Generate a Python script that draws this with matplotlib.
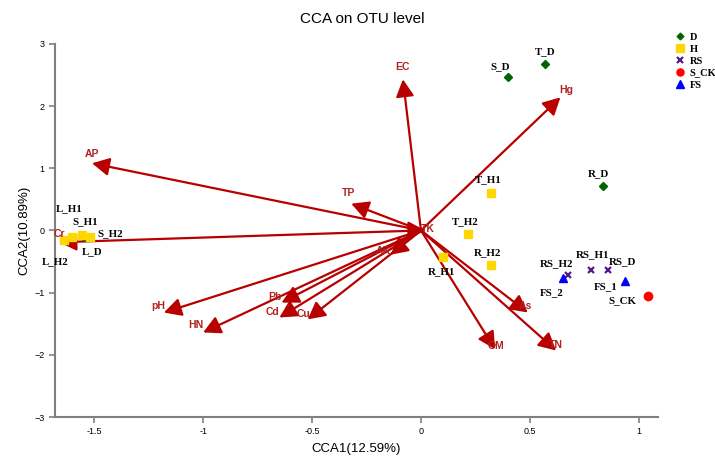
import matplotlib
matplotlib.use("Agg")
import matplotlib.pyplot as plt

# Environmental factor arrows (CCA1, CCA2)
env_names = ["EC", "Hg", "AP", "TP", "Cr", "AK", "pH", "HN", "Pb", "Cd", "Cu", "As", "OM", "TN", "TK"]
env_x = [-0.083, 0.64, -1.51, -0.32, -1.66, -0.14, -1.18, -1.00, -0.64, -0.65, -0.52, 0.49, 0.34, 0.62, 0.02]
env_y = [2.43, 2.14, 1.08, 0.43, -0.19, -0.39, -1.32, -1.64, -1.16, -1.40, -1.43, -1.32, -1.91, -1.93, 0.0]

# Samples
samp_names = ["S_D", "T_D", "R_D", "L_D",
              "T_H1", "T_H2", "R_H1", "R_H2", "L_H1", "L_H2", "S_H1", "S_H2",
              "RS_H2", "RS_H1", "RS_D",
              "S_CK",
              "FS_1", "FS_2"]
samp_group = ["D", "D", "D", "D",
              "H", "H", "H", "H", "H", "H", "H", "H",
              "RS", "RS", "RS",
              "S_CK",
              "FS", "FS"]
samp_x = [0.40, 0.57, 0.835, -1.546,
          0.32, 0.215, 0.10, 0.32, -1.60, -1.64, -1.555, -1.52,
          0.675, 0.78, 0.86,
          1.04,
          0.935, 0.65]
samp_y = [2.46, 2.67, 0.71, -0.11,
          0.61, -0.06, -0.42, -0.55, -0.10, -0.15, -0.08, -0.10,
          -0.71, -0.63, -0.64,
          -1.06,
          -0.82, -0.77]

groups = ["D", "H", "RS", "S_CK", "FS"]
g_marker = {"D": "D", "H": "s", "RS": "x", "S_CK": "o", "FS": "^"}
g_color = {"D": "#006400", "H": "#FFD700", "RS": "#551A8B", "S_CK": "#FF0000", "FS": "#0000FF"}
g_size = {"D": 4, "H": 6, "RS": 5, "S_CK": 6, "FS": 6}

# label offsets in points (positions only)
samp_off = {"S_D": (-6, 8), "T_D": (0, 9), "R_D": (-3, 9), "L_D": (6, -10),
            "T_H1": (-2, 9), "T_H2": (-2, 9), "R_H1": (-1, -11), "R_H2": (-2, 9),
            "L_H1": (-2, 20), "L_H2": (-6, -16), "S_H1": (2, 10), "S_H2": (15, 2),
            "RS_H2": (-8, 8), "RS_H1": (1, 11), "RS_D": (10, 6),
            "S_CK": (-18, -3), "FS_1": (-14, -4), "FS_2": (-8, -10)}
env_off = {"EC": (0, 9), "Hg": (4, 5), "AP": (0, 7), "TP": (-2, 8), "Cr": (0, 6),
           "AK": (-5, 3), "pH": (-4, 5), "HN": (-5, 5), "Pb": (-5, 4), "Cd": (-5, 4),
           "Cu": (-3, 4), "As": (-2, 5), "OM": (1, 2), "TN": (0, 4), "TK": (2, 1)}

fig = plt.figure(figsize=(7.15, 4.57), dpi=100)
ax = fig.add_axes([0.0769, 0.0875, 0.8431, 0.8165])

arrow_col = "#B80000"
for n, x, y in zip(env_names, env_x, env_y):
    ax.annotate("", xy=(x, y), xytext=(0, 0),
                arrowprops=dict(arrowstyle="-|>,head_length=0.95,head_width=0.5",
                                color=arrow_col, lw=1.6, mutation_scale=11,
                                shrinkA=0, shrinkB=0), zorder=2)
    dx, dy = env_off[n]
    ax.annotate(n, xy=(x, y), xytext=(dx, dy), textcoords="offset points",
                ha="center", va="center", color="#B22222", fontsize=7.5,
                fontweight="bold", family="Liberation Sans", zorder=4)

for g in groups:
    xs = [x for x, gg in zip(samp_x, samp_group) if gg == g]
    ys = [y for y, gg in zip(samp_y, samp_group) if gg == g]
    kw = dict(marker=g_marker[g], color=g_color[g], linestyle="none", ms=g_size[g], label=g, zorder=3)
    if g == "RS":
        kw["mew"] = 1.6
    else:
        kw["mec"] = g_color[g]
    ax.plot(xs, ys, **kw)

for n, x, y in zip(samp_names, samp_x, samp_y):
    dx, dy = samp_off[n]
    ax.annotate(n, xy=(x, y), xytext=(dx, dy), textcoords="offset points",
                ha="center", va="center", fontsize=7.8, fontweight="bold",
                family="Liberation Serif", color="black", zorder=5)

ax.set_xlim(-1.68, 1.087)
ax.set_ylim(-3, 3)
ax.set_xticks([-1.5, -1, -0.5, 0, 0.5, 1])
ax.set_xticklabels(["-1.5", "-1", "-0.5", "0", "0.5", "1"])
ax.set_yticks([-3, -2, -1, 0, 1, 2, 3])
for s in ["top", "right"]:
    ax.spines[s].set_visible(False)
for s in ["left", "bottom"]:
    ax.spines[s].set_color("#7f7f7f")
    ax.spines[s].set_linewidth(1.5)
ax.tick_params(axis="both", colors="#7f7f7f", labelcolor="black", labelsize=6.5, length=4, width=1.2)
for lab in ax.get_xticklabels() + ax.get_yticklabels():
    lab.set_family("Liberation Sans")

ax.set_xlabel("CCA1(12.59%)", fontsize=9.5, family="Liberation Sans", labelpad=5)
ax.set_ylabel("CCA2(10.89%)", fontsize=9.5, family="Liberation Sans", labelpad=3)
fig.text(0.506, 0.958, "CCA on OTU level", ha="center", va="center", fontsize=11, family="Liberation Sans")

leg = fig.legend(loc="upper left", bbox_to_anchor=(0.94, 0.94), frameon=False,
                 prop={"family": "Liberation Serif", "weight": "bold", "size": 7.5},
                 handlelength=0.6, handletextpad=0.6, labelspacing=0.25, borderpad=0,
                 markerscale=0.85)

fig.savefig("out.png", dpi=100)
